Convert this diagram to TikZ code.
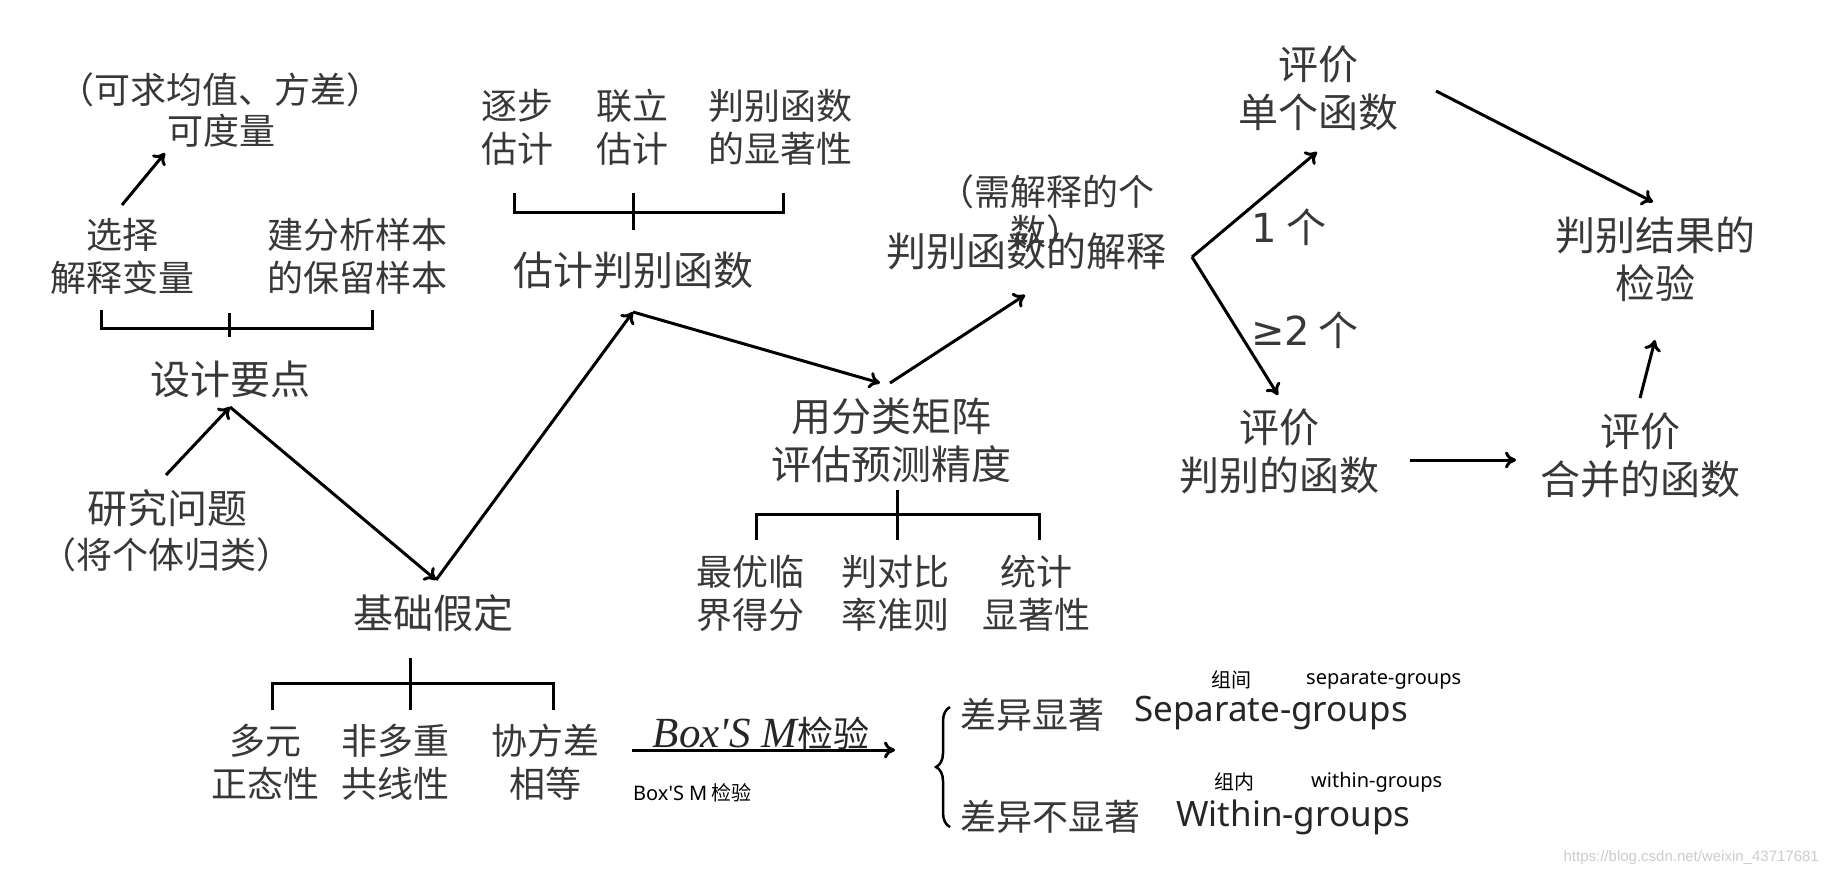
\documentclass[tikz,border=0pt]{standalone}
\usepackage{fontspec}
\setmainfont{Noto Sans CJK SC}
\newfontfamily\cjkf{Noto Sans CJK SC}
\newfontfamily\serifit{Liberation Serif}
\newfontfamily\latsans{Noto Sans}
\newfontfamily\djv{DejaVu Sans}
\newfontfamily\wmfont{Liberation Sans}
\usetikzlibrary{arrows.meta,decorations.pathreplacing}
\begin{document}
\begin{tikzpicture}[x=1pt,y=-1pt,
  txt/.style={text=black!78, inner sep=0pt, align=center},
  big/.style={txt, font=\fontsize{40}{48}\selectfont},
  mid/.style={txt, font=\fontsize{36}{43}\selectfont},
  small/.style={inner sep=0pt, text=black, font=\fontsize{20}{24}\selectfont},
  ghost/.style={inner sep=0pt, text=black!85, font=\latsans\fontsize{35}{40}\selectfont},
  arr/.style={line width=3pt, -{Computer Modern Rightarrow[length=11pt,width=17pt]}},
  ln/.style={line width=3pt},
]
\useasboundingbox[fill=white] (0,0) rectangle (1830,876);

% ---------- top-left cluster ----------
\node[mid] (kq)  at (220,90)  {（可求均值、方差）};
\node[mid] (kdl) at (221,131) {可度量};
\node[mid] (xz)  at (122,256) {选择\\解释变量};
\node[mid] (jfx) at (357,256) {建分析样本\\的保留样本};
\node[big] (sjyd) at (230,379) {设计要点};
\node[big] (yjwt) at (167,508) {研究问题};
\node[mid] (gl)   at (166,555) {（将个体归类）};

% ---------- basic assumptions ----------
\node[big] (jcjd) at (433,613) {基础假定};
\node[mid] (dy)  at (265,762) {多元\\正态性};
\node[mid] (fdz) at (395,762) {非多重\\共线性};
\node[mid] (xfc) at (545,762) {协方差\\相等};

% ---------- estimation ----------
\node[mid] (zbgj) at (517,127) {逐步\\估计};
\node[mid] (llgj) at (632,127) {联立\\估计};
\node[mid] (xzx)  at (780,127) {判别函数\\的显著性};
\node[big] (gjpb) at (633,270) {估计判别函数};

% ---------- classification matrix ----------
\node[big] (fljz) at (891,440) {用分类矩阵\\评估预测精度};
\node[mid] (zylj) at (750,593) {最优临\\界得分};
\node[mid] (pdbl) at (895,593) {判对比\\率准则};
\node[mid] (tjxz) at (1036,593) {统计\\显著性};

% ---------- interpretation ----------
\node[txt, font=\fontsize{36}{40}\selectfont] (xjs) at (1046,212) {（需解释的个\\数）};
\node[big] (pbjs) at (1026,251) {判别函数的解释};
\node[big] (dghs) at (1318,88)  {评价\\单个函数};
\node[big] (pbdh) at (1279,451) {评价\\判别的函数};
\node[big] (hbhs) at (1640,455) {评价\\合并的函数};
\node[big] (pbjg) at (1655,259) {判别结果的\\检验};
\node[big] (one)  at (1289,227) {{\djv 1} 个};
\node[big] (two)  at (1305,330) {{\djv ≥2} 个};

% ---------- Box's M ----------
\node[inner sep=0pt, anchor=base, text=black!85] (boxm) at (761,747)
  {{\serifit\itshape\fontsize{43}{46}\selectfont Box'S M}{\fontsize{36}{40}\selectfont 检验}};
\node[small, anchor=west] (boxs) at (633,793) {{\latsans Box'S M} 检验};
\node[mid, anchor=west] (cyxz)  at (960,715) {差异显著};
\node[mid, anchor=west] (cybxz) at (960,817) {差异不显著};
\node[ghost, anchor=base west] (sepg) at (1134,721) {Separate-groups};
\node[ghost, anchor=base west] (witg) at (1176,826) {Within-groups};
\node[small, anchor=west] (zj)  at (1211,680) {组间};
\node[small, anchor=west] (sgl) at (1306,680) {\latsans separate-groups};
\node[small, anchor=west] (zn)  at (1214,782) {组内};
\node[small, anchor=west] (wgl) at (1311,782) {\latsans within-groups};

% watermark
\node[inner sep=0pt, anchor=east, text=black!20, font=\wmfont\fontsize{15}{15}\selectfont] (wm) at (1819,858) {https://blog.csdn.net/weixin\_43717681};

% ---------- vertices ----------
\coordinate (y1) at (166,475);
\coordinate (v1) at (230,407);
\coordinate (v2) at (436,580);
\coordinate (v3) at (633,312);
\coordinate (v4a) at (880,383);
\coordinate (v4b) at (890,383);
\coordinate (v5) at (1025,295);
\coordinate (v6) at (1192,257);
\coordinate (xzs) at (122,205);
\coordinate (kdle) at (165,153);
\coordinate (dgin) at (1317,152);
\coordinate (pbin) at (1278,395);
\coordinate (pbout) at (1410,460);
\coordinate (hbin) at (1516,460);
\coordinate (hbout) at (1640,398);
\coordinate (jgin1) at (1655,340);
\coordinate (dgout) at (1436,91);
\coordinate (jgin2) at (1653,202);
\coordinate (bxs) at (632,750);
\coordinate (bxe) at (895,750);

% ---------- connectors ----------
\draw[arr] (xzs) -- (kdle);
\draw[arr] (y1) -- (v1);
\draw[arr] (v1) -- (v2);
\draw[arr] (v2) -- (v3);
\draw[arr] (v3) -- (v4a);
\draw[arr] (v4b) -- (v5);
\draw[arr] (v6) -- (dgin);
\draw[arr] (v6) -- (pbin);
\draw[arr] (pbout) -- (hbin);
\draw[arr] (hbout) -- (jgin1);
\draw[arr] (dgout) -- (jgin2);
\draw[arr] (bxs) -- (bxe);

% ---------- brackets ----------
\draw[ln] (101,310) |- (372,328) -- (372,310);
\draw[ln] (229,313) -- (229,337);
\draw[ln] (272,710) |- (553,683) -- (553,710);
\draw[ln] (410,658) -- (410,710);
\draw[ln] (514,193) |- (783,212) -- (783,193);
\draw[ln] (633,193) -- (633,230);
\draw[ln] (756,540) |- (1039,514) -- (1039,540);
\draw[ln] (897,490) -- (897,540);

% brace
\draw[line width=2.5pt, decorate, decoration={brace, amplitude=14pt}] (950,827) -- (950,707);
\end{tikzpicture}
\end{document}
